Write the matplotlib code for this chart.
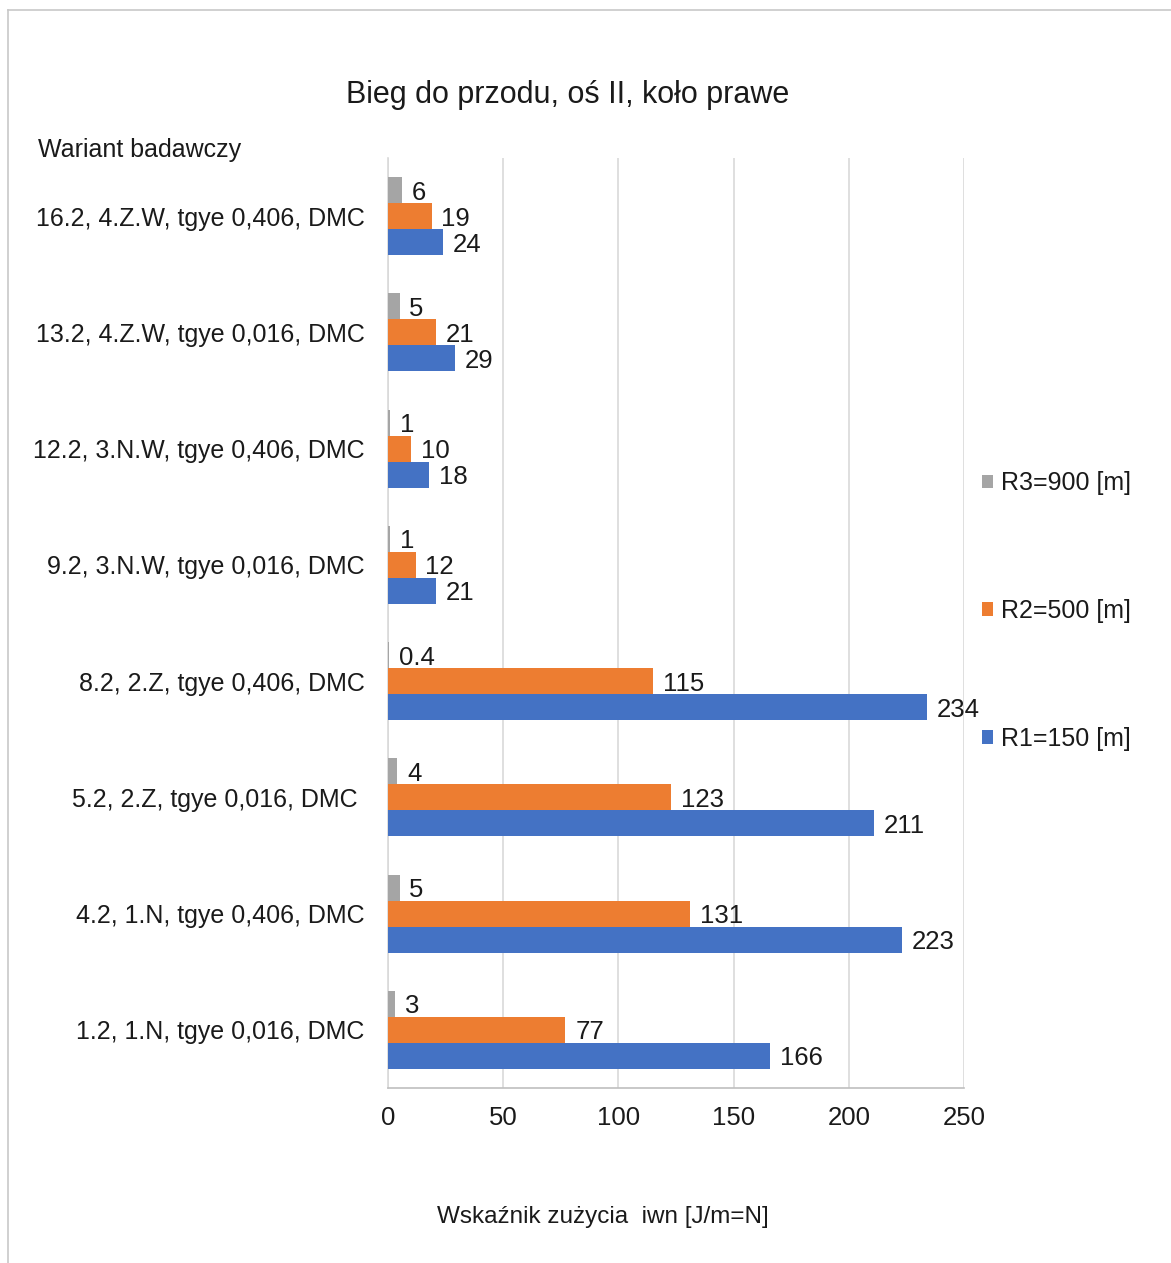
import matplotlib
matplotlib.use("Agg")
import matplotlib.pyplot as plt
from matplotlib.patches import Patch
from matplotlib.lines import Line2D
import numpy as np

plt.rcParams['font.family'] = ['Liberation Sans', 'DejaVu Sans']

categories = [
    "1.2, 1.N, tgye 0,016, DMC",
    "4.2, 1.N, tgye 0,406, DMC",
    "5.2, 2.Z, tgye 0,016, DMC ",
    "8.2, 2.Z, tgye 0,406, DMC",
    "9.2, 3.N.W, tgye 0,016, DMC",
    "12.2, 3.N.W, tgye 0,406, DMC",
    "13.2, 4.Z.W, tgye 0,016, DMC",
    "16.2, 4.Z.W, tgye 0,406, DMC",
]
r1_150 = [166, 223, 211, 234, 21, 18, 29, 24]
r2_500 = [77, 131, 123, 115, 12, 10, 21, 19]
r3_900 = [3, 5, 4, 0.4, 1, 1, 5, 6]

series_names = ["R1=150 [m]", "R2=500 [m]", "R3=900 [m]"]
colors = ["#4472C4", "#ED7D31", "#A5A5A5"]
x_ticks = [0, 50, 100, 150, 200, 250]

W, H = 1171, 1263
fig = plt.figure(figsize=(W / 100, H / 100), dpi=100)
fig.patch.set_facecolor("white")

ax = fig.add_axes([388 / W, 1 - 1088 / H, 576 / W, 930 / H])

y = np.arange(len(categories))
h = 0.2237
offsets = [-h, 0.0, h]
fs = 18
num_fs = 18.5

for vals, off, col in zip([r1_150, r2_500, r3_900], offsets, colors):
    bars = ax.barh(y + off, vals, height=h, color=col, zorder=3)
    labels = ax.bar_label(bars, labels=[f"{v:g}" for v in vals], padding=7,
                          fontsize=num_fs, color="#1a1a1a")
    for t in labels:
        t.set_va("center_baseline")

ax.set_xlim(0, 250)
ax.set_ylim(-0.5, len(categories) - 0.5)
ax.set_xticks(x_ticks)
ax.set_xticklabels([str(t) for t in x_ticks], fontsize=num_fs)
ax.set_yticks(y)
ax.set_yticklabels(categories, fontsize=fs)
ax.tick_params(axis="both", length=0, colors="#1a1a1a")
ax.tick_params(axis="y", pad=17)
ax.tick_params(axis="x", pad=13)

ax.grid(axis="x", color="#d9d9d9", linewidth=1.2, zorder=0)
for s in ["top", "right"]:
    ax.spines[s].set_visible(False)
ax.spines["left"].set_color("#d9d9d9")
ax.spines["bottom"].set_color("#bfbfbf")
ax.spines["left"].set_linewidth(1.2)
ax.spines["bottom"].set_linewidth(1.2)

# legend: R3 at top, R1 at bottom
handles = [Patch(facecolor=c, edgecolor="none") for c in colors][::-1]
leg = fig.legend(handles, series_names[::-1], loc="center left",
                 bbox_to_anchor=(982 / W, 1 - 611 / H), frameon=False,
                 fontsize=fs, handlelength=0.45, handleheight=0.45,
                 handletextpad=0.3, labelspacing=4.15, borderpad=0,
                 borderaxespad=0)
for t in leg.get_texts():
    t.set_color("#1a1a1a")

fig.text(568 / W, 1 - 95 / H, "Bieg do przodu, oś II, koło prawe",
         ha="center", va="center", fontsize=22, color="#1a1a1a")
fig.text(38 / W, 1 - 150 / H, "Wariant badawczy", ha="left", va="center",
         fontsize=fs, color="#1a1a1a")
fig.text(603 / W, 1 - 1217 / H, "Wskaźnik zużycia  iwn [J/m=N]",
         ha="center", va="center", fontsize=17.5, color="#1a1a1a")

# outer chart frame (top and left edges)
fig.add_artist(Line2D([8 / W, 1], [1 - 10 / H, 1 - 10 / H],
                      transform=fig.transFigure, color="#c8c8c8", lw=1.2))
fig.add_artist(Line2D([8 / W, 8 / W], [0, 1 - 10 / H],
                      transform=fig.transFigure, color="#c8c8c8", lw=1.2))

fig.savefig("out.png", dpi=100, facecolor="white")
